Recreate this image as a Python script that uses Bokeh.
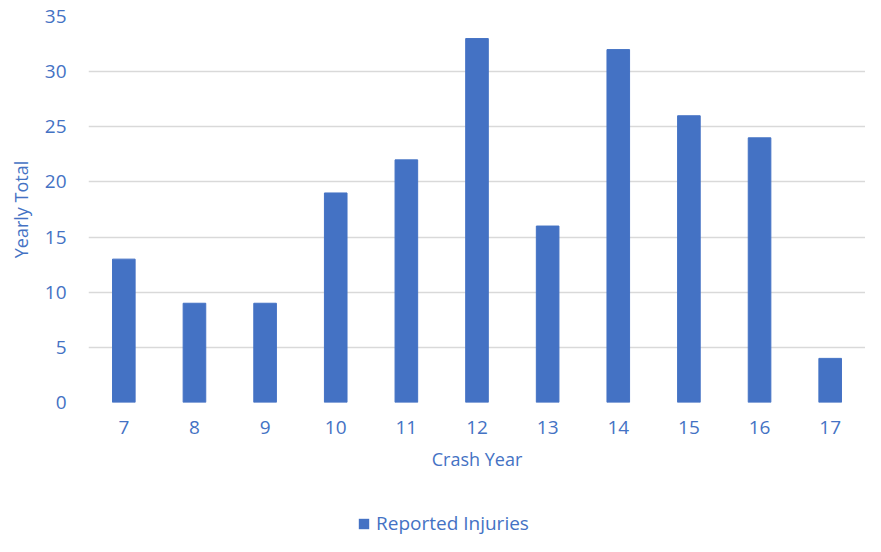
from bokeh.plotting import figure
from bokeh.layouts import column
from bokeh.models import ColumnDataSource, Legend, LegendItem, FactorRange, Range1d
from bokeh.embed import file_html
from bokeh.resources import INLINE

years = ["7", "8", "9", "10", "11", "12", "13", "14", "15", "16", "17"]
injuries = [13, 9, 9, 19, 22, 33, 16, 32, 26, 24, 4]
y_ticks = [0, 5, 10, 15, 20, 25, 30, 35]
series_name = "Reported Injuries"

BLUE = "#4472C4"
TXT = "#4472C4"
FONT = "Open Sans"

src = ColumnDataSource(data=dict(x=years, y=injuries))

p = figure(x_range=FactorRange(*years), y_range=(0, 35), width=865, height=506,
           output_backend="svg", toolbar_location=None,
           min_border_left=88, min_border_right=0, min_border_top=16, min_border_bottom=104)

r = p.vbar(x="x", top="y", width=0.32, source=src, color=BLUE)

p.outline_line_color = None
p.xgrid.grid_line_color = None
p.ygrid.grid_line_color = "#D9D9D9"
p.ygrid.grid_line_width = 1.5
p.yaxis.ticker = y_ticks
p.x_range.range_padding = 0

for ax in (p.xaxis[0], p.yaxis[0]):
    ax.axis_line_color = None
    ax.major_tick_line_color = None
    ax.minor_tick_line_color = None
    ax.major_tick_in = 0
    ax.major_tick_out = 0
    ax.major_label_text_color = TXT
    ax.major_label_text_font = FONT
    ax.major_label_text_font_size = "19px"
    ax.axis_label_text_color = TXT
    ax.axis_label_text_font = FONT
    ax.axis_label_text_font_size = "18px"
    ax.axis_label_text_font_style = "normal"

p.xaxis.axis_label = "Crash Year"
p.yaxis.axis_label = "Yearly Total"
p.xaxis.major_label_standoff = 18
p.xaxis.axis_label_standoff = 10
p.yaxis.major_label_standoff = 22
p.yaxis.axis_label_standoff = 9

# legend strip below the chart (zero-height proxy renderer kept far out of view)
p2 = figure(x_range=FactorRange(*years), y_range=Range1d(1000, 2000),
            width=865, height=30, output_backend="svg", toolbar_location=None,
            min_border=0)
p2.axis.visible = False
p2.grid.grid_line_color = None
p2.outline_line_color = None
proxy = p2.vbar(x="x", top="y", bottom="y", width=0.32, source=src,
                fill_color=BLUE, line_color=None)

legend = Legend(items=[LegendItem(label=series_name, renderers=[proxy])],
                location=(269, 0), orientation="horizontal",
                label_text_color=TXT, label_text_font=FONT, label_text_font_size="19px",
                glyph_width=13, glyph_height=13, border_line_color=None,
                background_fill_alpha=0,
                margin=0, padding=0, spacing=4, label_standoff=6)
p2.add_layout(legend, "center")

layout = column(p, p2, spacing=0)
open("out.html", "w").write(file_html(layout, INLINE))
